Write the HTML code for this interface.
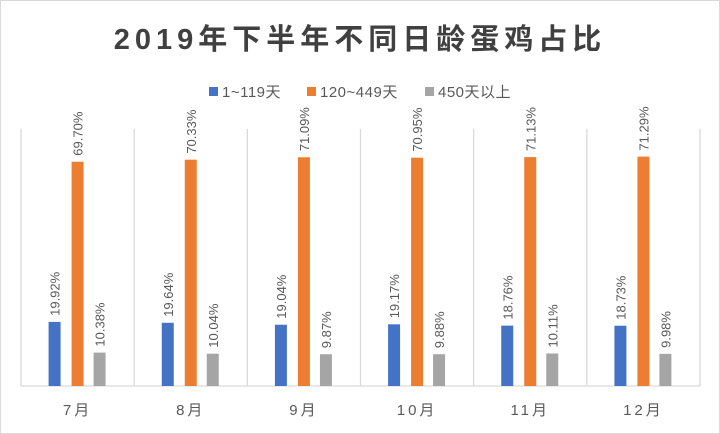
<!DOCTYPE html>
<html><head><meta charset="utf-8"><style>
html,body{margin:0;padding:0;background:#fff}
#wrap{position:relative;width:718px;height:432px;border:1px solid #d9d9d9;overflow:hidden;font-family:"Liberation Sans","Noto Sans CJK SC",sans-serif}
svg text{font-family:"Liberation Sans","Noto Sans CJK SC",sans-serif}
</style></head><body>
<div id="wrap">
<svg id="chart" width="718" height="432">
<text x="359" y="48" text-anchor="middle" font-size="29" font-weight="bold" fill="#404040" letter-spacing="5">2019年下半年不同日龄蛋鸡占比</text>
<g>
<g><rect x="208" y="86" width="9" height="9" fill="#4472c4"/><text x="221" y="96" font-size="15" letter-spacing="0.5" fill="#595959">1~119天</text></g>
<g><rect x="306" y="86" width="9" height="9" fill="#ed7d31"/><text x="319" y="96" font-size="15" letter-spacing="0.5" fill="#595959">120~449天</text></g>
<g><rect x="424" y="86" width="9" height="9" fill="#a5a5a5"/><text x="437" y="96" font-size="15" letter-spacing="0.5" fill="#595959">450天以上</text></g>
</g>
<g id="plot"></g>
</svg>
</div>
<script>
const categories=["7月","8月","9月","10月","11月","12月"];
const seriesA=[19.92,19.64,19.04,19.17,18.76,18.73];
const seriesB=[69.70,70.33,71.09,70.95,71.13,71.29];
const seriesC=[10.38,10.04,9.87,9.88,10.11,9.98];
const seriesNames=["1-119","120-449","450-plus"];
const colors=["#4472c4","#ed7d31","#a5a5a5"];
const x0=20,x1=699,base=385;
const bandW=(x1-x0)/categories.length;
const yScale=v=>base-v*3.218;
const xCenter=i=>x0+bandW*(i+0.5);
const offsets=[-23,0,22];
const ns="http://www.w3.org/2000/svg";
const g=document.getElementById("plot");
function mk(t,a){const e=document.createElementNS(ns,t);for(const k in a)e.setAttribute(k,a[k]);g.appendChild(e);return e;}
for(let i=0;i<=categories.length;i++){
  const x=x0+bandW*i;
  const l=mk("line",{x1:x,x2:x,y1:128,y2:base,stroke:"#d9d9d9","stroke-width":1.3});
  
  
}
const ax=mk("line",{x1:x0,x2:x1,y1:base,y2:base,stroke:"#d9d9d9","stroke-width":1.3});


[seriesA,seriesB,seriesC].forEach((s,si)=>{
  s.forEach((v,i)=>{
    const cx=xCenter(i)+offsets[si], y=yScale(v);
    const r=mk("rect",{x:cx-6,y:y,width:12,height:base-y,fill:colors[si]});
    
    
    const t=mk("text",{x:0,y:0,transform:`translate(${cx+5},${y-6}) rotate(-90)`,"font-size":13,fill:"#595959"});
    t.textContent=v.toFixed(2)+"%";
    
    
  });
});
categories.forEach((c,i)=>{
  const t=mk("text",{x:xCenter(i),y:414,"text-anchor":"middle","font-size":15,fill:"#595959","letter-spacing":3});
  t.textContent=c;
  
  
});
</script>
</body></html>
